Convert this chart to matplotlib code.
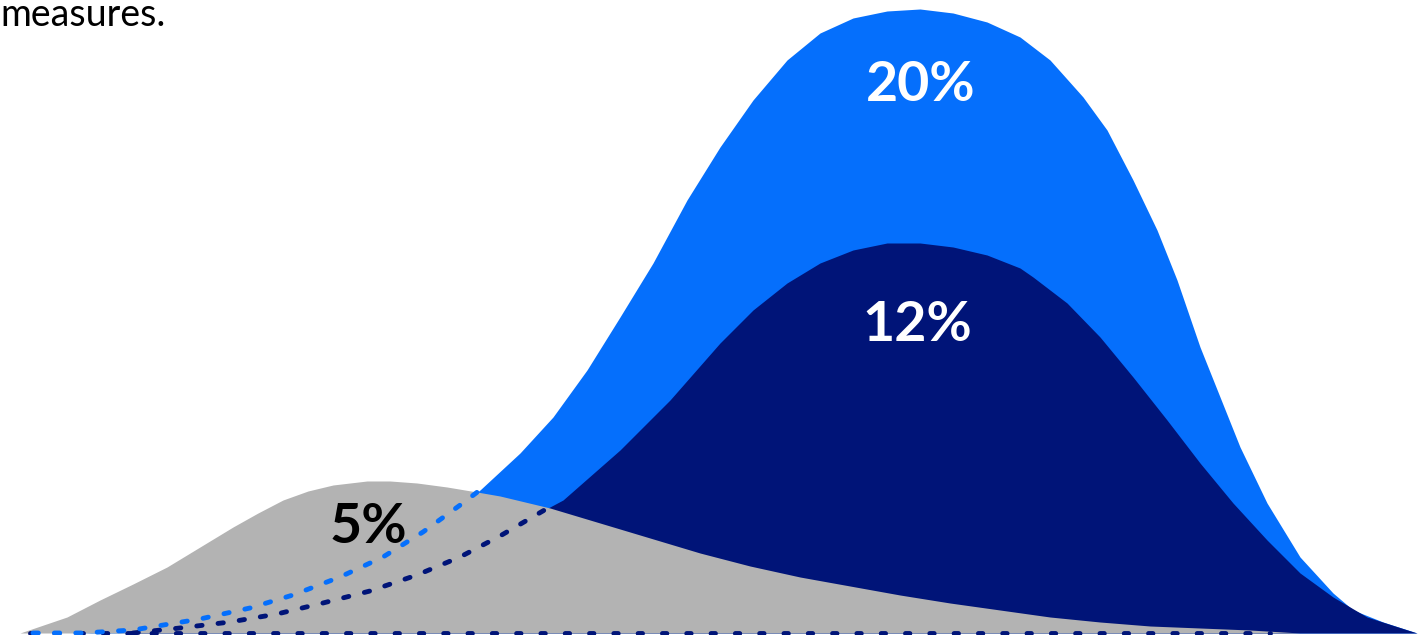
import numpy as np
import matplotlib.pyplot as plt

# --- DATA (x position, height above baseline) ---
blue_x = [33, 83, 133, 200, 250, 293, 340, 383, 423, 463, 480, 520, 553, 587, 620,
          653, 687, 720, 753, 787, 820, 853, 887, 920, 953, 987, 1020, 1050, 1083,
          1107, 1133, 1157, 1177, 1200, 1220, 1240, 1267, 1300, 1333, 1353, 1383, 1417]
blue_y = [0, 0, 3, 14, 25, 38, 56, 76, 101, 130, 143, 180, 216, 263, 316,
          370, 433, 486, 533, 573, 600, 615, 622, 624, 620, 611, 596, 573, 536,
          503, 453, 403, 353, 286, 236, 186, 130, 76, 40, 23, 11, 0]

navy_x = [133, 180, 230, 277, 323, 370, 417, 460, 500, 548, 563, 620, 670, 720, 753,
          787, 820, 853, 887, 920, 953, 987, 1020, 1033, 1067, 1100, 1133, 1167,
          1200, 1233, 1267, 1300, 1333, 1367, 1395, 1417]
navy_y = [0, 5, 11, 19, 30, 42, 58, 76, 97, 125, 133, 183, 233, 290, 323,
          350, 370, 383, 390, 390, 386, 378, 365, 356, 330, 296, 256, 213,
          170, 130, 93, 60, 36, 16, 7, 0]

grey_x = [20, 67, 100, 133, 167, 200, 233, 258, 283, 308, 333, 367, 390, 417, 447,
          477, 500, 550, 600, 650, 700, 750, 800, 850, 900, 950, 1000, 1050, 1100,
          1150, 1200, 1250, 1300]
grey_y = [0, 16, 33, 49, 66, 86, 106, 120, 133, 142, 148, 152, 152, 150, 146,
          141, 137, 125, 110, 95, 80, 67, 56, 47, 38, 30, 23, 16, 11,
          7, 5, 3, 0]

blue_cross = 480   # where each curve comes out from behind the grey area
navy_cross = 548
baseline_dots = (30, 1270)

labels = ["20%", "12%", "5%"]
label_pos = [(921, 548), (917, 308), (368, 106)]
# ----------------------------------------------------------------------

BLUE = "#056ffc"
NAVY = "#001478"
GREY = "#b3b3b3"

fig = plt.figure(figsize=(14.28, 6.35), dpi=100)
ax = fig.add_axes([0, 0, 1, 1])
ax.set_xlim(0, 1428)
ax.set_ylim(-2, 633)
ax.axis("off")

ax.fill_between(blue_x, blue_y, 0, color=BLUE, lw=0, zorder=1)
ax.fill_between(navy_x, navy_y, 0, color=NAVY, lw=0, zorder=2)
ax.fill_between(grey_x, grey_y, 0, color=GREY, lw=0, zorder=3)

dots = (0, (1.1, 3.3))
bx = np.array(blue_x)
by = np.array(blue_y)
nx = np.array(navy_x)
ny = np.array(navy_y)
ax.plot(baseline_dots, [0, 0], color=NAVY, lw=3.5, ls=(0, (0.9, 4.1)),
        dash_capstyle="round", zorder=4)
ax.plot(nx[nx <= navy_cross], ny[nx <= navy_cross], color=NAVY, lw=3.5, ls=dots,
        dash_capstyle="round", zorder=5)
ax.plot(bx[bx <= blue_cross], by[bx <= blue_cross], color=BLUE, lw=3.5, ls=dots,
        dash_capstyle="round", zorder=6)

for txt, (x, y), c in zip(labels, label_pos, ["white", "white", "black"]):
    ax.text(x, y, txt, color=c, fontsize=40, fontweight="bold", family="Lato",
            ha="center", va="center", zorder=7)

fig.text(0.0, 1 - 26 / 635, "measures.", fontsize=27, family="Lato",
         color="black", ha="left", va="baseline")

fig.savefig("out.png", dpi=100)
